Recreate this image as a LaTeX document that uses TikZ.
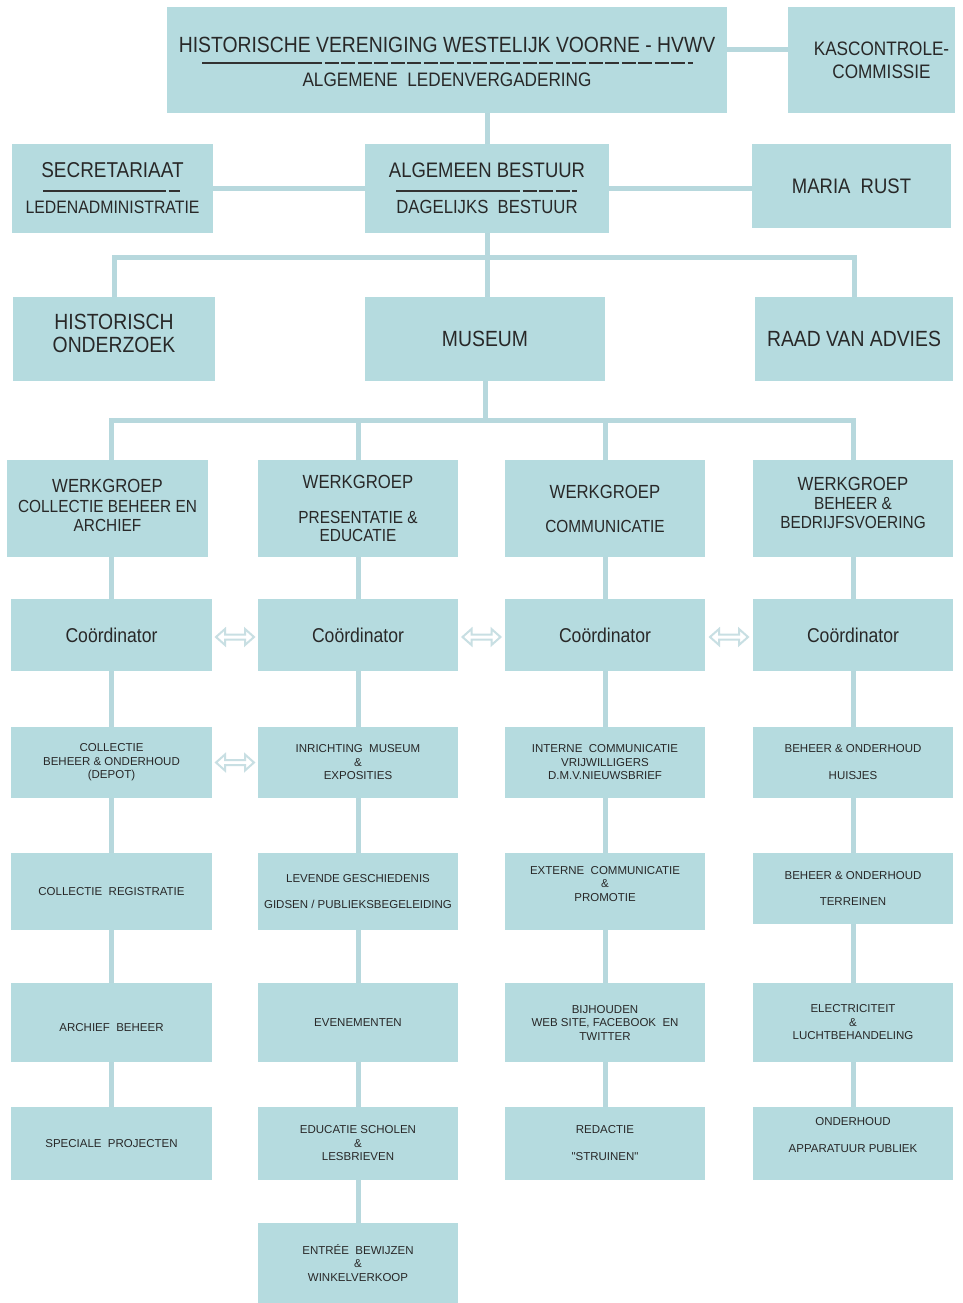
\documentclass[tikz,border=0pt]{standalone}
\usepackage{fontspec}
\setmainfont{Liberation Sans}[FakeStretch=0.88]
\newfontfamily\smallfam{Liberation Sans}
\usetikzlibrary{arrows.meta,calc}
\definecolor{boxc}{RGB}{181,219,223}
\definecolor{linec}{RGB}{183,216,221}
\definecolor{arrc}{RGB}{200,223,227}
\definecolor{txtc}{RGB}{40,40,40}
\definecolor{sepc}{RGB}{50,50,50}
\newcommand\bigf[2]{\fontsize{#1}{#2}\selectfont}
\newcommand\smf[2]{\smallfam\fontsize{#1}{#2}\selectfont}
\newcommand\mybox[8][]{%
  \pgfmathsetmacro\cx{(#3+#5)/2}%
  \pgfmathsetmacro\cy{(#4+#6)/2}%
  \pgfmathsetmacro\bw{#5-#3}%
  \pgfmathsetmacro\bh{#6-#4}%
  \node[box,minimum width=\bw pt,minimum height=\bh pt,
    label={[lbl,#1,font={#7}]center:{#8}}] (#2) at (\cx,\cy) {};}
\tikzset{
  box/.style={fill=boxc, draw=none, inner sep=0pt, outer sep=0pt, rectangle},
  lbl/.style={text=txtc, align=center, inner sep=0pt},
  conn/.style={draw=linec, line width=5pt},
  sepl/.style={draw=sepc, line width=1.2pt},
  sepd/.style={sepl, dash pattern=on 14pt off 2.5pt},
  dblarrow/.pic={\draw[draw=arrc,line width=2pt,fill=white,line join=miter]
    (-19,0) -- (-10,-8) -- (-10,-2.5) -- (10,-2.5) -- (10,-8) -- (19,0)
    -- (10,8) -- (10,2.5) -- (-10,2.5) -- (-10,8) -- cycle;},
}
\begin{document}
\begin{tikzpicture}[x=1pt,y=-1pt]
\fill[white] (0,0) rectangle (963,1303);
\useasboundingbox (0,0) rectangle (963,1303);

% top levels
\mybox[yshift=-1.5pt]{top}{167}{7}{727}{113}{\bigf{22}{34}}{HISTORISCHE VERENIGING WESTELIJK VOORNE - HVWV\\\fontsize{19.5}{34}\selectfont ALGEMENE\ \ LEDENVERGADERING}
\mybox[xshift=10pt]{kas}{788}{7}{955}{113}{\bigf{19.5}{23}}{KASCONTROLE-\\COMMISSIE}
\mybox{sec}{12}{144}{213}{233}{\bigf{21.5}{36}}{SECRETARIAAT\\\fontsize{18}{36}\selectfont LEDENADMINISTRATIE}
\mybox{ab}{365}{144}{609}{233}{\bigf{21}{36}}{ALGEMEEN BESTUUR\\\fontsize{19}{36}\selectfont DAGELIJKS\ \ BESTUUR}
\mybox{mr}{752}{144}{951}{228}{\bigf{21}{25}}{MARIA\ \ RUST}
\mybox[yshift=6pt]{ho}{13}{297}{215}{381}{\bigf{22}{23}}{HISTORISCH\\ONDERZOEK}
\mybox{mus}{365}{297}{605}{381}{\bigf{22}{25}}{MUSEUM}
\mybox{ra}{755}{297}{953}{381}{\bigf{22}{25}}{RAAD VAN ADVIES}

% werkgroepen
\mybox[yshift=3pt]{wg1}{7}{460}{208}{557}{\bigf{19}{19.5}}{WERKGROEP\\\fontsize{17.5}{19.5}\selectfont COLLECTIE BEHEER EN\\\fontsize{17.5}{19.5}\selectfont ARCHIEF}
\mybox{wg2}{258}{460}{458}{557}{\bigf{19}{18}}{WERKGROEP\\[17pt]\fontsize{17.5}{18}\selectfont PRESENTATIE \&\\\fontsize{17.5}{18}\selectfont EDUCATIE}
\mybox{wg3}{505}{460}{705}{557}{\bigf{19}{34}}{WERKGROEP\\\fontsize{17.5}{34}\selectfont COMMUNICATIE}
\mybox[yshift=6pt]{wg4}{753}{460}{953}{557}{\bigf{19}{19}}{WERKGROEP\\\fontsize{17.5}{19}\selectfont BEHEER \&\\\fontsize{17.5}{19}\selectfont BEDRIJFSVOERING}

% coordinators
\mybox{co1}{11}{599}{212}{671}{\bigf{20}{22}}{Coördinator}
\mybox{co2}{258}{599}{458}{671}{\bigf{20}{22}}{Coördinator}
\mybox{co3}{505}{599}{705}{671}{\bigf{20}{22}}{Coördinator}
\mybox{co4}{753}{599}{953}{671}{\bigf{20}{22}}{Coördinator}

% row 4
\mybox{r4c1}{11}{727}{212}{798}{\smf{11.5}{13.5}}{COLLECTIE\\BEHEER \& ONDERHOUD\\(DEPOT)}
\mybox{r4c2}{258}{727}{458}{798}{\smf{11.5}{13.5}}{INRICHTING\ \ MUSEUM\\\&\\EXPOSITIES}
\mybox{r4c3}{505}{727}{705}{798}{\smf{11.5}{13.5}}{INTERNE\ \ COMMUNICATIE\\VRIJWILLIGERS\\D.M.V.NIEUWSBRIEF}
\mybox{r4c4}{753}{727}{953}{798}{\smf{11.5}{13.5}}{BEHEER \& ONDERHOUD\\[13.5pt]HUISJES}

% row 5
\mybox{r5c1}{11}{853}{212}{930}{\smf{11.5}{13.5}}{COLLECTIE\ \ REGISTRATIE}
\mybox{r5c2}{258}{853}{458}{930}{\smf{11.5}{13.5}}{LEVENDE GESCHIEDENIS\\[12.5pt]GIDSEN / PUBLIEKSBEGELEIDING}
\mybox[yshift=7.5pt]{r5c3}{505}{853}{705}{930}{\smf{11.5}{13.5}}{EXTERNE\ \ COMMUNICATIE\\\&\\PROMOTIE}
\mybox{r5c4}{753}{853}{953}{924}{\smf{11.5}{13.5}}{BEHEER \& ONDERHOUD\\[12.5pt]TERREINEN}

% row 6
\mybox[yshift=-5.5pt]{r6c1}{11}{983}{212}{1062}{\smf{11.5}{13.5}}{ARCHIEF\ \ BEHEER}
\mybox{r6c2}{258}{983}{458}{1062}{\smf{11.5}{13.5}}{EVENEMENTEN}
\mybox{r6c3}{505}{983}{705}{1062}{\smf{11.5}{13.5}}{BIJHOUDEN\\WEB SITE, FACEBOOK\ \ EN\\TWITTER}
\mybox{r6c4}{753}{983}{953}{1062}{\smf{11.5}{13.5}}{ELECTRICITEIT\\\&\\LUCHTBEHANDELING}

% row 7
\mybox{r7c1}{11}{1107}{212}{1180}{\smf{11.5}{13.5}}{SPECIALE\ \ PROJECTEN}
\mybox{r7c2}{258}{1107}{458}{1180}{\smf{11.5}{13.5}}{EDUCATIE SCHOLEN\\\&\\LESBRIEVEN}
\mybox{r7c3}{505}{1107}{705}{1180}{\smf{11.5}{13.5}}{REDACTIE\\[13.5pt]"STRUINEN"}
\mybox[yshift=8pt]{r7c4}{753}{1107}{953}{1180}{\smf{11.5}{13.5}}{ONDERHOUD\\[13.5pt]APPARATUUR PUBLIEK}

% row 8
\mybox{r8c2}{258}{1223}{458}{1303}{\smf{11.5}{13.5}}{ENTRÉE\ \ BEWIJZEN\\\&\\WINKELVERKOOP}

% separator lines inside boxes
\draw[sepl] (202,63) -- (308,63);
\draw[sepd] (308,63) -- (693,63);
\draw[sepl] (43,191) -- (152,191);
\draw[sepd] (152,191) -- (180,191);
\draw[sepl] (396,191) -- (506,191);
\draw[sepd] (506,191) -- (577,191);

% connectors
\coordinate (bar1) at (487,257);
\coordinate (bar2) at (485,420);
\draw[conn] (ab.north) -- (ab.north |- top.south);
\draw[conn] ([yshift=10pt]top.east) -- ([yshift=10pt]top.east -| kas.west);
\draw[conn] (ab.west) -- (ab.west -| sec.east);
\draw[conn] (ab.east) -- (ab.east -| mr.west);
\draw[conn] (ab.south) -- (ab.south |- mus.north);
\draw[conn] (ho.north) |- (bar1) -| (ra.north);
\draw[conn] (mus.south) -- (mus.south |- bar2);
\draw[conn] (wg1.north -| co1.north) |- (bar2) -| (wg4.north);
\draw[conn] (wg2.north) -- (wg2.north |- bar2);
\draw[conn] (wg3.north) -- (wg3.north |- bar2);

\draw[conn] (co1.north) -- (co1.north |- wg1.south);
\draw[conn] (co2.north) -- (wg2.south);
\draw[conn] (co3.north) -- (wg3.south);
\draw[conn] (co4.north) -- (wg4.south);

\draw[conn] (co1.south) -- (r4c1.north);
\draw[conn] (co2.south) -- (r4c2.north);
\draw[conn] (co3.south) -- (r4c3.north);
\draw[conn] (co4.south) -- (r4c4.north);

\draw[conn] (r4c1.south) -- (r5c1.north);
\draw[conn] (r4c2.south) -- (r5c2.north);
\draw[conn] (r4c3.south) -- (r5c3.north);
\draw[conn] (r4c4.south) -- (r5c4.north);

\draw[conn] (r5c1.south) -- (r6c1.north);
\draw[conn] (r5c2.south) -- (r6c2.north);
\draw[conn] (r5c3.south) -- (r6c3.north);
\draw[conn] (r5c4.south) -- (r6c4.north);

\draw[conn] (r6c1.south) -- (r7c1.north);
\draw[conn] (r6c2.south) -- (r7c2.north);
\draw[conn] (r6c3.south) -- (r7c3.north);
\draw[conn] (r6c4.south) -- (r7c4.north);

\draw[conn] (r7c2.south) -- (r8c2.north);

% hollow double arrows
\pic at ($(co1.east)!0.5!(co2.west)+(0,2)$) {dblarrow};
\pic at ($(co2.east)!0.5!(co3.west)+(0,2)$) {dblarrow};
\pic at ($(co3.east)!0.5!(co4.west)+(0,2)$) {dblarrow};
\pic at ($(r4c1.east)!0.5!(r4c2.west)$) {dblarrow};
\end{tikzpicture}
\end{document}
